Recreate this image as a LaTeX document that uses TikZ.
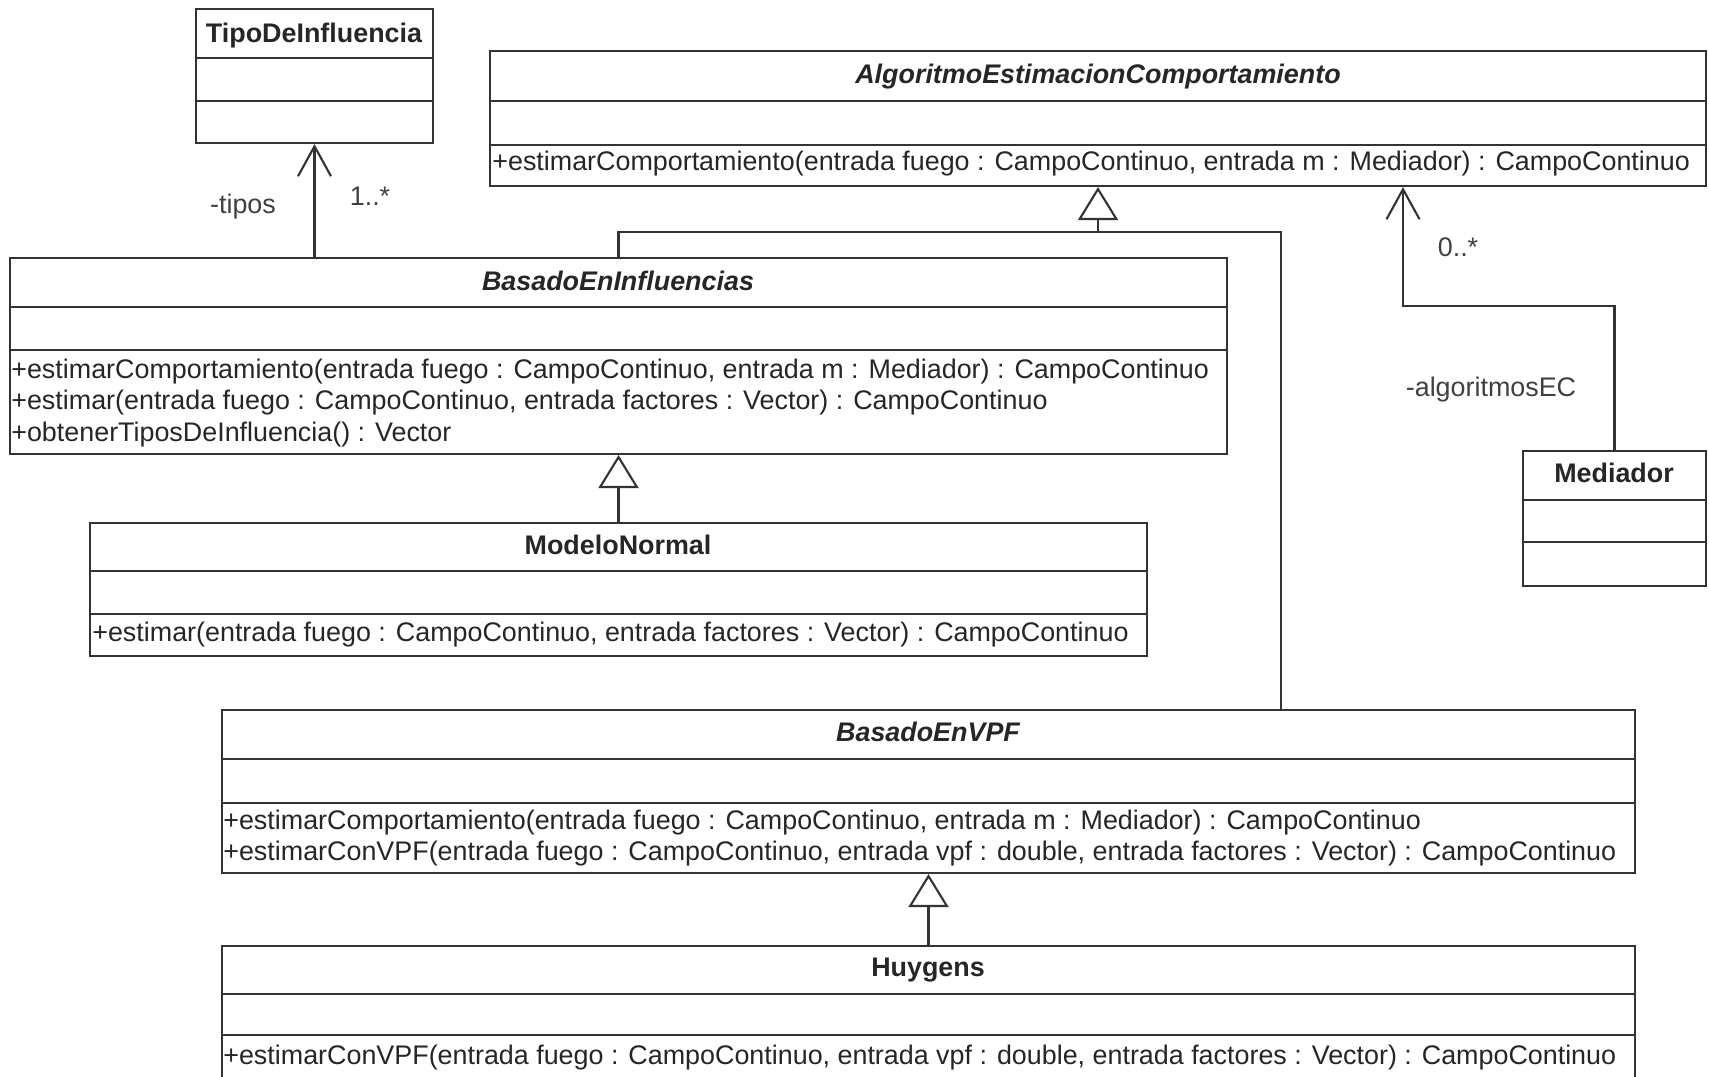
\documentclass[tikz,border=0pt]{standalone}
\usepackage{fontspec}
\setmainfont{Liberation Sans}
\usetikzlibrary{positioning}
\usetikzlibrary{arrows.meta}
\usetikzlibrary{fit}
\newcommand{\umlfont}{\fontsize{15.3}{18}\selectfont}
\tikzset{
    klass/.style = {rectangle, draw=black!80, line width=1.2pt, inner sep=0pt},
    part/.style = {draw=black!80, line width=1.2pt},
    kname/.style = {font=\umlfont\bfseries, text=black!85, inner sep=0pt},
    kabstract/.style = {font=\umlfont\bfseries\itshape, text=black!85, inner sep=0pt},
    ops/.style = {anchor=west, align=left, font=\umlfont, text=black!85, inner sep=0pt},
    role/.style = {font=\umlfont, text=black!75, inner sep=0pt},
    link/.style = {line width=1.2pt, draw=black!80},
    gen/.style = {-{Triangle[open,length=0.66cm,width=0.8cm]}, line width=1.2pt, draw=black!80},
    nav/.style = {-{Straight Barb[length=0.6cm,width=0.66cm]}, line width=1.2pt, draw=black!80},
}
\newcommand{\compart}[2]{\draw[part] (#1.west |- 0,#2) -- (#1.east |- 0,#2);}

\begin{document}
\begin{tikzpicture}[x=0.02cm, y=-0.02cm]
\useasboundingbox (0,0) rectangle (1709,1076);
% classes
\node[klass, fit={(196,9) (433,143)}] (tipo) {};
\node[kname] at (314,36) {TipoDeInfluencia};
\compart{tipo}{58} \compart{tipo}{101}
%
\node[klass, fit={(490,51) (1706,186)}] (algo) {};
\node[kabstract] at (1098,77) {AlgoritmoEstimacionComportamiento};
\compart{algo}{101} \compart{algo}{145}
\node[ops] at (492,164) {+estimarComportamiento(entrada fuego : CampoContinuo, entrada m : Mediador) : CampoContinuo};
%
\node[klass, fit={(1523,451) (1706,586)}] (med) {};
\node[kname] at (1614,473) {Mediador};
\compart{med}{500} \compart{med}{542}
%
\node[klass, fit={(10,258) (1227,454)}] (basinf) {};
\node[kabstract] at (618,281) {BasadoEnInfluencias};
\compart{basinf}{307} \compart{basinf}{350}
\node[ops] at (11,403) {+estimarComportamiento(entrada fuego : CampoContinuo, entrada m : Mediador) : CampoContinuo\\
+estimar(entrada fuego : CampoContinuo, entrada factores : Vector) : CampoContinuo\\
+obtenerTiposDeInfluencia() : Vector};
%
\node[klass, fit={(90,523) (1147,656)}] (modelo) {};
\node[kname] at (618,545) {ModeloNormal};
\compart{modelo}{571} \compart{modelo}{614}
\node[ops] at (92,635) {+estimar(entrada fuego : CampoContinuo, entrada factores : Vector) : CampoContinuo};
%
\node[klass, fit={(222,710) (1635,873)}] (basvpf) {};
\node[kabstract] at (928,732) {BasadoEnVPF};
\compart{basvpf}{759} \compart{basvpf}{803}
\node[ops] at (223,838) {+estimarComportamiento(entrada fuego : CampoContinuo, entrada m : Mediador) : CampoContinuo\\
+estimarConVPF(entrada fuego : CampoContinuo, entrada vpf : double, entrada factores : Vector) : CampoContinuo};
%
\node[klass, fit={(222,946) (1635,1095)}] (huygens) {};
\node[kname] at (928,970) {Huygens};
\compart{huygens}{994} \compart{huygens}{1035}
\node[ops] at (223,1058) {+estimarConVPF(entrada fuego : CampoContinuo, entrada vpf : double, entrada factores : Vector) : CampoContinuo};
% relations
\coordinate (genjoin) at (1098,232);
\coordinate (vpfin) at (1281,710);
\coordinate (medturn) at (1403,306);
\draw[link] (basinf.north) |- (genjoin);
\draw[link] (genjoin) -| (vpfin);
\draw[gen] (genjoin) -- (algo.south);
\draw[gen] (modelo.north) -- (basinf.south);
\draw[gen] (huygens.north) -- (basvpf.south);
\draw[nav] (basinf.north -| tipo.south) -- (tipo.south);
\draw[nav] (med.north) |- (medturn) -- (medturn |- algo.south);
% roles
\node[role] at (243,207) {-tipos};
\node[role] at (370,196) {1..*};
\node[role] at (1458,247) {0..*};
\node[role] at (1491,390) {-algoritmosEC};
\end{tikzpicture}
\end{document}
